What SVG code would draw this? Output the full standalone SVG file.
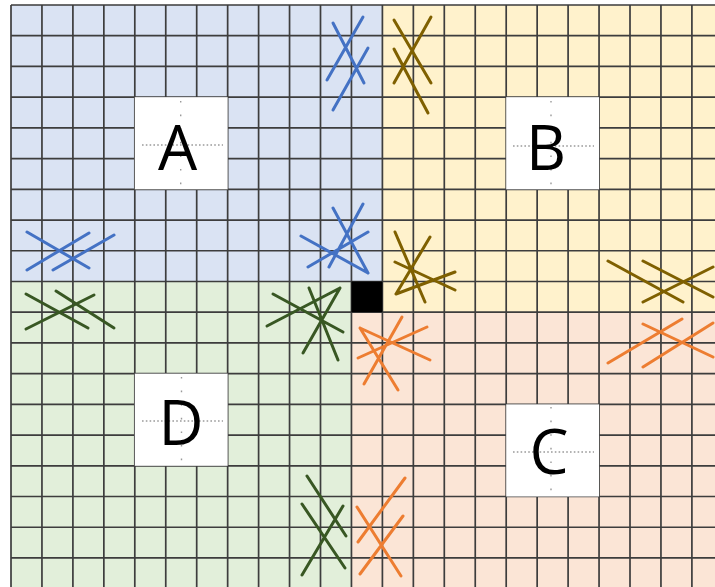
<svg xmlns="http://www.w3.org/2000/svg" width="715" height="587" viewBox="0 0 715 587">
<style>
.grid{stroke:#3d3d3d;stroke-width:1.7;fill:none}
.box{fill:#ffffff}
.lbl{font-family:"Open Sans","Liberation Sans",sans-serif;font-size:62px;fill:#000;text-anchor:middle}
.gh{stroke:#9a9a9a;stroke-width:1.4;stroke-dasharray:1.6 2.2;fill:none}
.gv{stroke:#9a9a9a;stroke-width:1.4;stroke-dasharray:1.6 12;fill:none}
.st{stroke-width:3;stroke-linecap:round;fill:none}
.blue{stroke:#4472c4}
.brown{stroke:#7f6000}
.green{stroke:#385723}
.orange{stroke:#ed7d31}
</style>
<rect width="715" height="587" fill="#ffffff"/>
<g id="quadrants">
<rect x="11" y="5" width="371.4" height="276.48" fill="#dae3f3"/>
<rect x="382.4" y="5" width="332.6" height="307.2" fill="#fff2cc"/>
<rect x="11" y="281.48" width="340.45" height="305.52" fill="#e2efda"/>
<rect x="351.45" y="312.2" width="363.55" height="274.8" fill="#fbe5d6"/>
</g>
<g id="grid">
<path class="grid" d="M11 5V587M41.95 5V587M72.9 5V587M103.85 5V587M134.8 5V587M165.75 5V587M196.7 5V587M227.65 5V587M258.6 5V587M289.55 5V587M320.5 5V587M351.45 5V587M382.4 5V587M413.35 5V587M444.3 5V587M475.25 5V587M506.2 5V587M537.15 5V587M568.1 5V587M599.05 5V587M630 5V587M660.95 5V587M691.9 5V587"/>
<path class="grid" d="M11 5H715M11 35.72H715M11 66.44H715M11 97.16H715M11 127.88H715M11 158.6H715M11 189.32H715M11 220.04H715M11 250.76H715M11 281.48H715M11 312.2H715M11 342.92H715M11 373.64H715M11 404.36H715M11 435.08H715M11 465.8H715M11 496.52H715M11 527.24H715M11 557.96H715"/>
</g>
<rect id="centre" x="351.45" y="281.48" width="30.95" height="30.72" fill="#000000"/>
<g id="node-A">
<rect class="box" x="134.8" y="97.16" width="92.85" height="92.16"/>
<path class="gh" d="M142 145H223"/>
<path class="gv" d="M180.7 101V190"/>
<text class="lbl" x="177.5" y="170">A</text>
</g>
<g id="node-B">
<rect class="box" x="506.2" y="97.16" width="92.85" height="92.16"/>
<path class="gh" d="M513 146H594"/>
<path class="gv" d="M551 101V190"/>
<text class="lbl" x="546" y="170">B</text>
</g>
<g id="node-C">
<rect class="box" x="506.2" y="404.36" width="92.85" height="92.16"/>
<path class="gh" d="M513 452H594"/>
<path class="gv" d="M551 407V497"/>
<text class="lbl" x="549" y="474">C</text>
</g>
<g id="node-D">
<rect class="box" x="134.8" y="373.64" width="92.85" height="92.16"/>
<path class="gh" d="M142 421H223"/>
<path class="gv" d="M181.5 377V466"/>
<text class="lbl" x="181" y="445">D</text>
</g>
<g id="stitches">
<g class="st blue">
<path d="M363 17L327 80M368 48L333 110M333 23L364 83"/>
<path d="M89 233L27 270M114 235L53 270M27 232L89 268"/>
<path d="M333 208L368 273M301 236L368 273M363 204L329 267M368 232L308 267"/>
</g>
<g class="st brown">
<path d="M394 20L431 83M394 49L428 113M431 17L394 83"/>
<path d="M608 261L683 302M643 261L713 297M713 267L643 302"/>
<path d="M395 232L425 302M395 262L455 290M430 237L396 294M455 272L396 294"/>
</g>
<g class="st green">
<path d="M94 295L26 329M26 294L88 328M56 291L114 328"/>
<path d="M307 476L346 536M302 504L345 568M343 506L302 575"/>
<path d="M273 294L343 332M309 288L338 360M340 288L267 326M340 288L303 353"/>
</g>
<g class="st orange">
<path d="M682 319L608 363M713 323L643 367M643 324L713 357"/>
<path d="M405 478L358 542M403 516L360 574M357 507L401 576"/>
<path d="M427 327L358 358M402 317L364 384M360 328L430 360M360 328L398 390"/>
</g>
</g>
</svg>
